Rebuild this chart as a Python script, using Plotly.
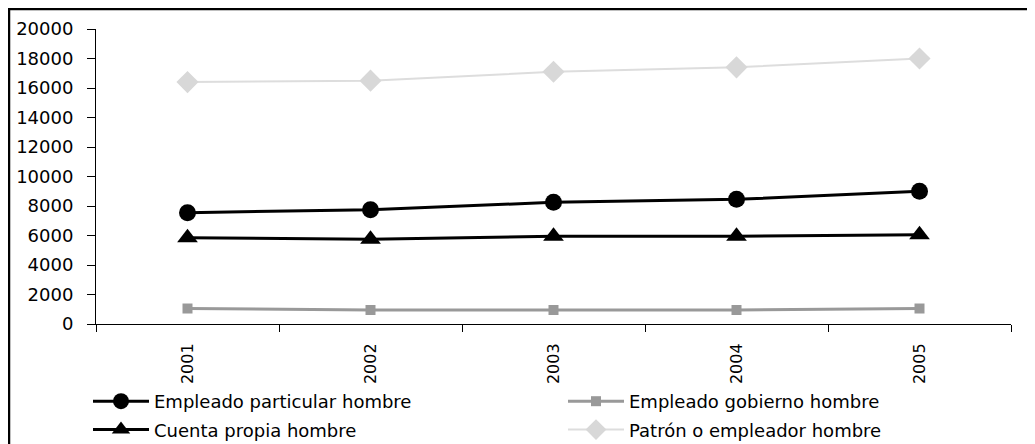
import plotly.graph_objects as go

years = ["2001", "2002", "2003", "2004", "2005"]
empleado_particular = [7550, 7750, 8250, 8450, 9000]
empleado_gobierno = [1050, 950, 950, 950, 1050]
cuenta_propia = [5850, 5750, 5950, 5950, 6050]
patron = [16400, 16500, 17100, 17400, 18000]

y_ticks = [0, 2000, 4000, 6000, 8000, 10000, 12000, 14000, 16000, 18000, 20000]

FONT = "DejaVu Sans"
W, H = 1035, 444
ML, MT, PW, PH = 88, 21, 915, 295

fig = go.Figure()
fig.add_trace(go.Scatter(
    x=years, y=empleado_particular, name="Empleado particular hombre",
    legend="legend", legendgroup="a",
    mode="lines+markers", line=dict(color="black", width=3),
    marker=dict(symbol="circle", size=17, color="black")))
fig.add_trace(go.Scatter(
    x=years, y=empleado_gobierno, name="Empleado gobierno hombre",
    legend="legend2", legendgroup="c",
    mode="lines+markers", line=dict(color="#999999", width=3),
    marker=dict(symbol="square", size=10, color="#999999")))
fig.add_trace(go.Scatter(
    x=years, y=cuenta_propia, name="Cuenta propia hombre",
    legend="legend", legendgroup="b",
    mode="lines+markers", line=dict(color="black", width=3),
    marker=dict(symbol="triangle-up", size=18, color="black")))
fig.add_trace(go.Scatter(
    x=years, y=patron, name="Patrón o empleador hombre",
    legend="legend2", legendgroup="d",
    mode="lines+markers", line=dict(color="#dddddd", width=2),
    marker=dict(symbol="diamond", size=17, color="#d8d8d8")))

legend_common = dict(orientation="v", xref="container", yref="container",
                     xanchor="left", yanchor="top", traceorder="grouped",
                     tracegroupgap=2, itemwidth=56,
                     font=dict(family=FONT, size=18, color="black"),
                     bgcolor="rgba(0,0,0,0)")

fig.update_layout(
    width=W, height=H,
    margin=dict(l=ML, r=W - ML - PW, t=MT, b=H - MT - PH, autoexpand=False),
    paper_bgcolor="white", plot_bgcolor="white",
    font=dict(family=FONT, size=17, color="black"),
    showlegend=True,
    legend=dict(x=80 / W, y=1 - 375 / H, **legend_common),
    legend2=dict(x=555 / W, y=1 - 375 / H, **legend_common),
    xaxis=dict(type="category", range=[-0.5, 4.5], tickson="boundaries",
               ticks="outside", ticklen=7, tickcolor="black", tickwidth=1,
               showline=True, linecolor="black", linewidth=1,
               showgrid=False, tickangle=-90, ticklabelstandoff=12,
               tickfont=dict(family=FONT, size=16, color="black"),
               automargin=False, fixedrange=True),
    yaxis=dict(range=[0, 20000], tickvals=y_ticks,
               ticktext=[str(v) for v in y_ticks],
               ticks="outside", ticklen=8, tickcolor="black", tickwidth=1,
               showline=True, linecolor="black", linewidth=1,
               showgrid=False, zeroline=False, ticklabelstandoff=10,
               tickfont=dict(family=FONT, size=18, color="black"),
               automargin=False, fixedrange=True),
    shapes=[
        dict(type="line", xref="paper", yref="paper",
             x0=(0 - ML) / PW, x1=1.2, y0=(MT + PH - 1) / PH, y1=(MT + PH - 1) / PH,
             line=dict(color="black", width=2.5)),
        dict(type="line", xref="paper", yref="paper",
             x0=(1 - ML) / PW, x1=(1 - ML) / PW, y0=(MT + PH) / PH, y1=-0.6,
             line=dict(color="black", width=2.5)),
    ],
)

fig.write_html("out.html")
